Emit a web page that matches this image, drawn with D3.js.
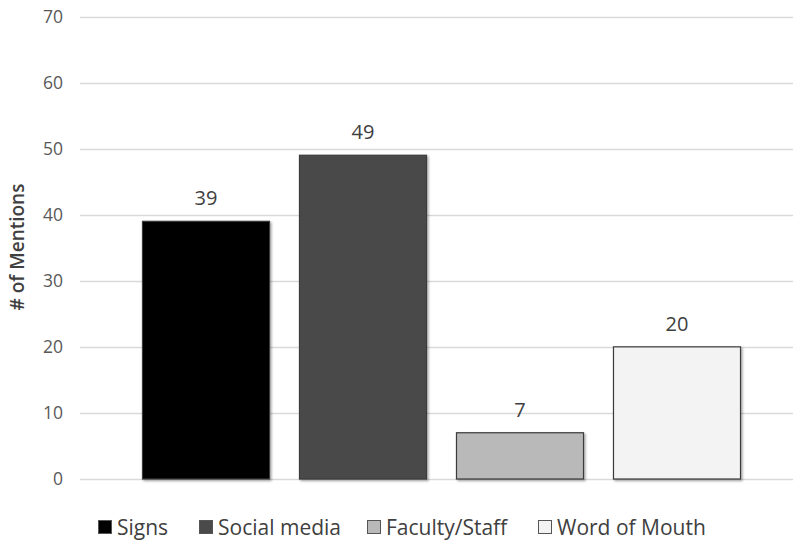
<!DOCTYPE html>
<html>
<head>
<meta charset="utf-8">
<script src="https://cdn.jsdelivr.net/npm/d3@7"></script>
<style>
  html, body { margin: 0; padding: 0; background: #fff; }
  svg { display: block; }
</style>
</head>
<body>
<svg id="chart" width="793" height="543"></svg>
<script>
const categories = ["Signs", "Social media", "Faculty/Staff", "Word of Mouth"];
const mentions = [39, 49, 7, 20];
const barColors = ["#000000", "#4a4a4a", "#b9b9b9", "#f3f3f3"];
const yTicks = [0, 10, 20, 30, 40, 50, 60, 70];

const svg = d3.select("#chart");
const W = 793;

const y = d3.scaleLinear().domain([0, 70]).range([479, 16.5]);
const x = d3.scaleBand().domain(categories).range([127.5, 755.5])
  .paddingInner(0.191).paddingOuter(0.0955);

// soft shadow under bars
const defs = svg.append("defs");
const f = defs.append("filter").attr("id", "shadow")
  .attr("x", "-10%").attr("y", "-10%").attr("width", "120%").attr("height", "120%");
f.append("feDropShadow").attr("dx", 1.5).attr("dy", 1.5).attr("stdDeviation", 1)
  .attr("flood-color", "#000").attr("flood-opacity", 0.35);

// gridlines
svg.append("g").selectAll("line").data(yTicks).join("line")
  .attr("x1", 80).attr("x2", W)
  .attr("y1", d => Math.round(y(d)) + 0.5).attr("y2", d => Math.round(y(d)) + 0.5)
  .attr("stroke", "#d9d9d9").attr("stroke-width", 1.5);

// y axis labels
const yAxis = d3.axisLeft(y).tickValues(yTicks).tickSize(0).tickPadding(0);
const ya = svg.append("g").attr("transform", "translate(63,0)").call(yAxis);
ya.select(".domain").remove();
ya.selectAll("text")
  .attr("font-family", "'Open Sans', sans-serif").attr("font-size", 17.5)
  .attr("fill", "#595959");

// y title
svg.append("text")
  .attr("transform", "translate(24,247) rotate(-90)")
  .attr("text-anchor", "middle")
  .attr("font-family", "'Open Sans', sans-serif").attr("font-size", 19)
  .attr("font-weight", 600)
  .attr("fill", "#404040")
  .text("# of Mentions");

// bars
svg.append("g").selectAll("rect").data(categories).join("rect")
  .attr("x", d => x(d)).attr("width", x.bandwidth())
  .attr("y", (d, i) => y(mentions[i]))
  .attr("height", (d, i) => y(0) - y(mentions[i]))
  .attr("fill", (d, i) => barColors[i])
  .attr("stroke", "#3a3a3a").attr("stroke-width", 1.2)
  .attr("filter", "url(#shadow)");

// value labels
svg.append("g").selectAll("text").data(categories).join("text")
  .attr("x", d => x(d) + x.bandwidth() / 2)
  .attr("y", (d, i) => y(mentions[i]) - 16)
  .attr("text-anchor", "middle")
  .attr("font-family", "'Open Sans', sans-serif").attr("font-size", 20)
  .attr("fill", "#404040")
  .text((d, i) => mentions[i]);

// legend
const legendX = [98, 199, 367, 538];
const lg = svg.append("g").selectAll("g").data(categories).join("g")
  .attr("transform", (d, i) => `translate(${legendX[i]},520)`);
lg.append("rect").attr("x", 0.5).attr("y", 0.5).attr("width", 13).attr("height", 13)
  .attr("fill", (d, i) => barColors[i])
  .attr("stroke", "#555").attr("stroke-width", 1);
lg.append("text").attr("x", 19).attr("y", 14.5)
  .attr("font-family", "'Liberation Sans Narrow', 'Open Sans', sans-serif")
  .attr("font-size", 21).attr("fill", "#404040")
  .text(d => d);
</script>
</body>
</html>
